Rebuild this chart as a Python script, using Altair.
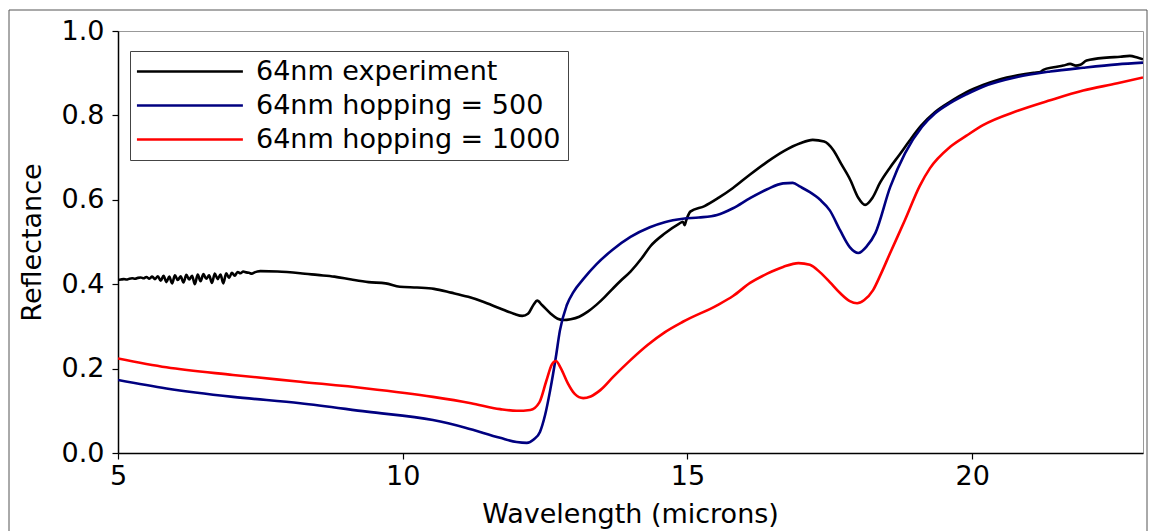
import altair as alt
import pandas as pd

series_names = ["64nm experiment", "64nm hopping = 500", "64nm hopping = 1000"]
series_colors = ["#000000", "#000080", "#ff0000"]
x_ticks = [5, 10, 15, 20]
y_ticks = [0.0, 0.2, 0.4, 0.6, 0.8, 1.0]

exp_w = [5.00, 5.05, 5.10, 5.15, 5.20, 5.25, 5.30, 5.35, 5.40, 5.45,
         5.50, 5.55, 5.60, 5.65, 5.70, 5.75, 5.80, 5.85, 5.90, 5.95,
         6.00, 6.05, 6.10, 6.15, 6.20, 6.25, 6.30, 6.35, 6.40, 6.45,
         6.50, 6.55, 6.60, 6.65, 6.70, 6.75, 6.80, 6.85, 6.90, 6.95,
         7.00, 7.05, 7.10, 7.15, 7.20, 7.25, 7.30, 7.35, 7.40, 7.45, 7.50,
         7.8, 8.2, 8.5, 8.8, 9.1, 9.4, 9.7, 9.95, 10.25, 10.55, 10.85, 11.15,
         11.4, 11.7, 11.95, 12.1, 12.2, 12.3, 12.36, 12.45, 12.6, 12.72, 12.82,
         12.95, 13.1, 13.25, 13.4, 13.55, 13.7, 13.85, 14.0, 14.2, 14.35, 14.6,
         14.85, 14.92, 14.95, 14.98, 15.05, 15.3, 15.55, 15.8, 16.1, 16.4, 16.7,
         16.98, 17.2, 17.4, 17.56, 17.7, 17.86, 18.0, 18.12, 18.25, 18.38, 18.55,
         18.73, 18.9, 19.1, 19.35, 19.61, 19.9, 20.19, 20.45, 20.8, 21.08, 21.2,
         21.25, 21.43, 21.6, 21.72, 21.82, 21.9, 22.01, 22.36, 22.6, 22.77, 22.9, 23.0]
exp_r = [0.410, 0.411, 0.412, 0.411, 0.413, 0.414, 0.413, 0.415, 0.416, 0.414,
         0.417, 0.413, 0.418, 0.412, 0.419, 0.408, 0.420, 0.405, 0.418, 0.402,
         0.421, 0.410, 0.419, 0.404, 0.422, 0.411, 0.420, 0.400, 0.423, 0.407,
         0.424, 0.413, 0.421, 0.403, 0.425, 0.412, 0.423, 0.402, 0.426, 0.415,
         0.427, 0.420, 0.429, 0.426, 0.430, 0.428, 0.427, 0.425, 0.428, 0.430, 0.431,
         0.430, 0.426, 0.422, 0.418, 0.411, 0.405, 0.402, 0.394, 0.392, 0.389, 0.380, 0.370,
         0.359, 0.343, 0.330, 0.325, 0.330, 0.352, 0.361, 0.350, 0.330, 0.318, 0.315,
         0.317, 0.323, 0.335, 0.351, 0.370, 0.391, 0.411, 0.430, 0.462, 0.490, 0.520,
         0.543, 0.548, 0.540, 0.552, 0.572, 0.585, 0.605, 0.628, 0.660, 0.690, 0.716,
         0.734, 0.742, 0.738, 0.718, 0.685, 0.647, 0.605, 0.588, 0.605, 0.640, 0.675,
         0.708, 0.740, 0.775, 0.808, 0.832, 0.855, 0.872, 0.884, 0.895, 0.901, 0.903,
         0.908, 0.914, 0.918, 0.922, 0.918, 0.920, 0.930, 0.937, 0.939, 0.941, 0.937, 0.933]

h500_w = [5.0, 5.85, 7.02, 8.2, 9.37, 10.53, 11.1, 11.71, 12.0, 12.18, 12.3, 12.41,
          12.5, 12.59, 12.69, 12.76, 12.88, 13.0, 13.17, 13.4, 13.68, 14.0, 14.34,
          14.6, 14.92, 15.2, 15.52, 15.8, 16.1, 16.4, 16.68, 16.85, 16.98, 17.15,
          17.33, 17.5, 17.68, 17.85, 18.0, 18.15, 18.3, 18.56, 18.82, 19.12, 19.35,
          19.61, 19.9, 20.19, 20.79, 21.37, 21.95, 22.55, 23.0]
h500_r = [0.173, 0.153, 0.133, 0.118, 0.098, 0.078, 0.060, 0.036, 0.026, 0.024, 0.032, 0.050,
          0.090, 0.149, 0.228, 0.290, 0.350, 0.382, 0.412, 0.447, 0.481, 0.512, 0.535,
          0.547, 0.555, 0.558, 0.564, 0.580, 0.604, 0.625, 0.639, 0.640, 0.631, 0.618,
          0.600, 0.575, 0.528, 0.488, 0.474, 0.490, 0.521, 0.630, 0.710, 0.773, 0.805,
          0.829, 0.850, 0.868, 0.891, 0.904, 0.913, 0.921, 0.925]

h1000_w = [5.0, 5.85, 7.02, 8.2, 9.37, 10.53, 11.2, 11.71, 12.0, 12.24, 12.4, 12.52,
           12.62, 12.69, 12.78, 12.9, 13.02, 13.17, 13.3, 13.47, 13.7, 13.99, 14.3, 14.6,
           14.92, 15.52, 15.8, 16.1, 16.4, 16.68, 16.95, 17.15, 17.33, 17.5, 17.68,
           17.85, 17.98, 18.1, 18.26, 18.4, 18.56, 18.82, 19.08, 19.26, 19.61, 19.9,
           20.19, 20.8, 21.37, 21.95, 22.55, 23.0]
h1000_r = [0.224, 0.203, 0.185, 0.169, 0.153, 0.133, 0.118, 0.104, 0.100, 0.102, 0.120, 0.170,
           0.210, 0.218, 0.200, 0.165, 0.140, 0.130, 0.134, 0.149, 0.181, 0.219, 0.256, 0.286,
           0.311, 0.350, 0.372, 0.403, 0.425, 0.441, 0.450, 0.446, 0.428, 0.405, 0.379,
           0.360, 0.355, 0.362, 0.386, 0.425, 0.474, 0.552, 0.633, 0.675, 0.725, 0.752,
           0.777, 0.811, 0.836, 0.859, 0.876, 0.890]

rows = []
for name, ws, rs in zip(series_names, [exp_w, h500_w, h1000_w], [exp_r, h500_r, h1000_r]):
    for i, (w, r) in enumerate(zip(ws, rs)):
        rows.append({"series": name, "w": w, "r": r, "i": i})
df = pd.DataFrame(rows)

FONT = "DejaVu Sans"
FS = 27

lines = alt.Chart(df).mark_line(strokeWidth=2.6, clip=True, interpolate="monotone").encode(
    x=alt.X("w:Q",
            scale=alt.Scale(domain=[5, 23], nice=False, zero=False),
            axis=alt.Axis(values=x_ticks, title="Wavelength (microns)", labelPadding=4,
                          labelFlush=False,
                          titleX=512, titleY=61, titleBaseline="middle", titleAlign="center")),
    y=alt.Y("r:Q",
            scale=alt.Scale(domain=[0, 1], nice=False, zero=False),
            axis=alt.Axis(values=y_ticks, format=".1f", title="Reflectance", labelPadding=8,
                          labelFlush=False,
                          titleX=-86, titleY=211, titleBaseline="middle", titleAlign="center")),
    color=alt.Color("series:N",
                    scale=alt.Scale(domain=series_names, range=series_colors),
                    sort=series_names,
                    legend=alt.Legend(title=None, orient="none", legendX=12, legendY=20,
                                      symbolType="M-1.28,0H8.72", symbolSize=449,
                                      symbolStrokeWidth=2.6, labelFontSize=FS,
                                      labelFont=FONT, labelColor="#000000",
                                      labelOffset=92, labelLimit=1000,
                                      rowPadding=6, padding=7,
                                      strokeColor="#444444", fillColor="#ffffff",
                                      cornerRadius=0)),
    order="i:Q",
)

frame = alt.Chart(pd.DataFrame({"a": [0]})).mark_rect(
    filled=False, stroke="#555555", strokeWidth=1, clip=False
).encode(x=alt.value(-109), x2=alt.value(1029), y=alt.value(-21), y2=alt.value(560))

chart = alt.layer(frame, lines).properties(
    width=1025, height=422,
    autosize=alt.AutoSizeParams(type="none"),
    padding={"left": 118, "top": 31, "right": 9, "bottom": 78},
    background="#ffffff",
).configure_view(
    stroke="#999999", strokeWidth=1
).configure_axis(
    grid=False, domainColor="#000000", domainWidth=1.5,
    tickColor="#000000", tickSize=6, tickWidth=1.2,
    labelFont=FONT, labelFontSize=FS, labelColor="#000000",
    titleFont=FONT, titleFontSize=FS, titleColor="#000000", titleFontWeight="normal",
)

chart.save("out.html", embed_options={"renderer": "svg", "actions": False})
